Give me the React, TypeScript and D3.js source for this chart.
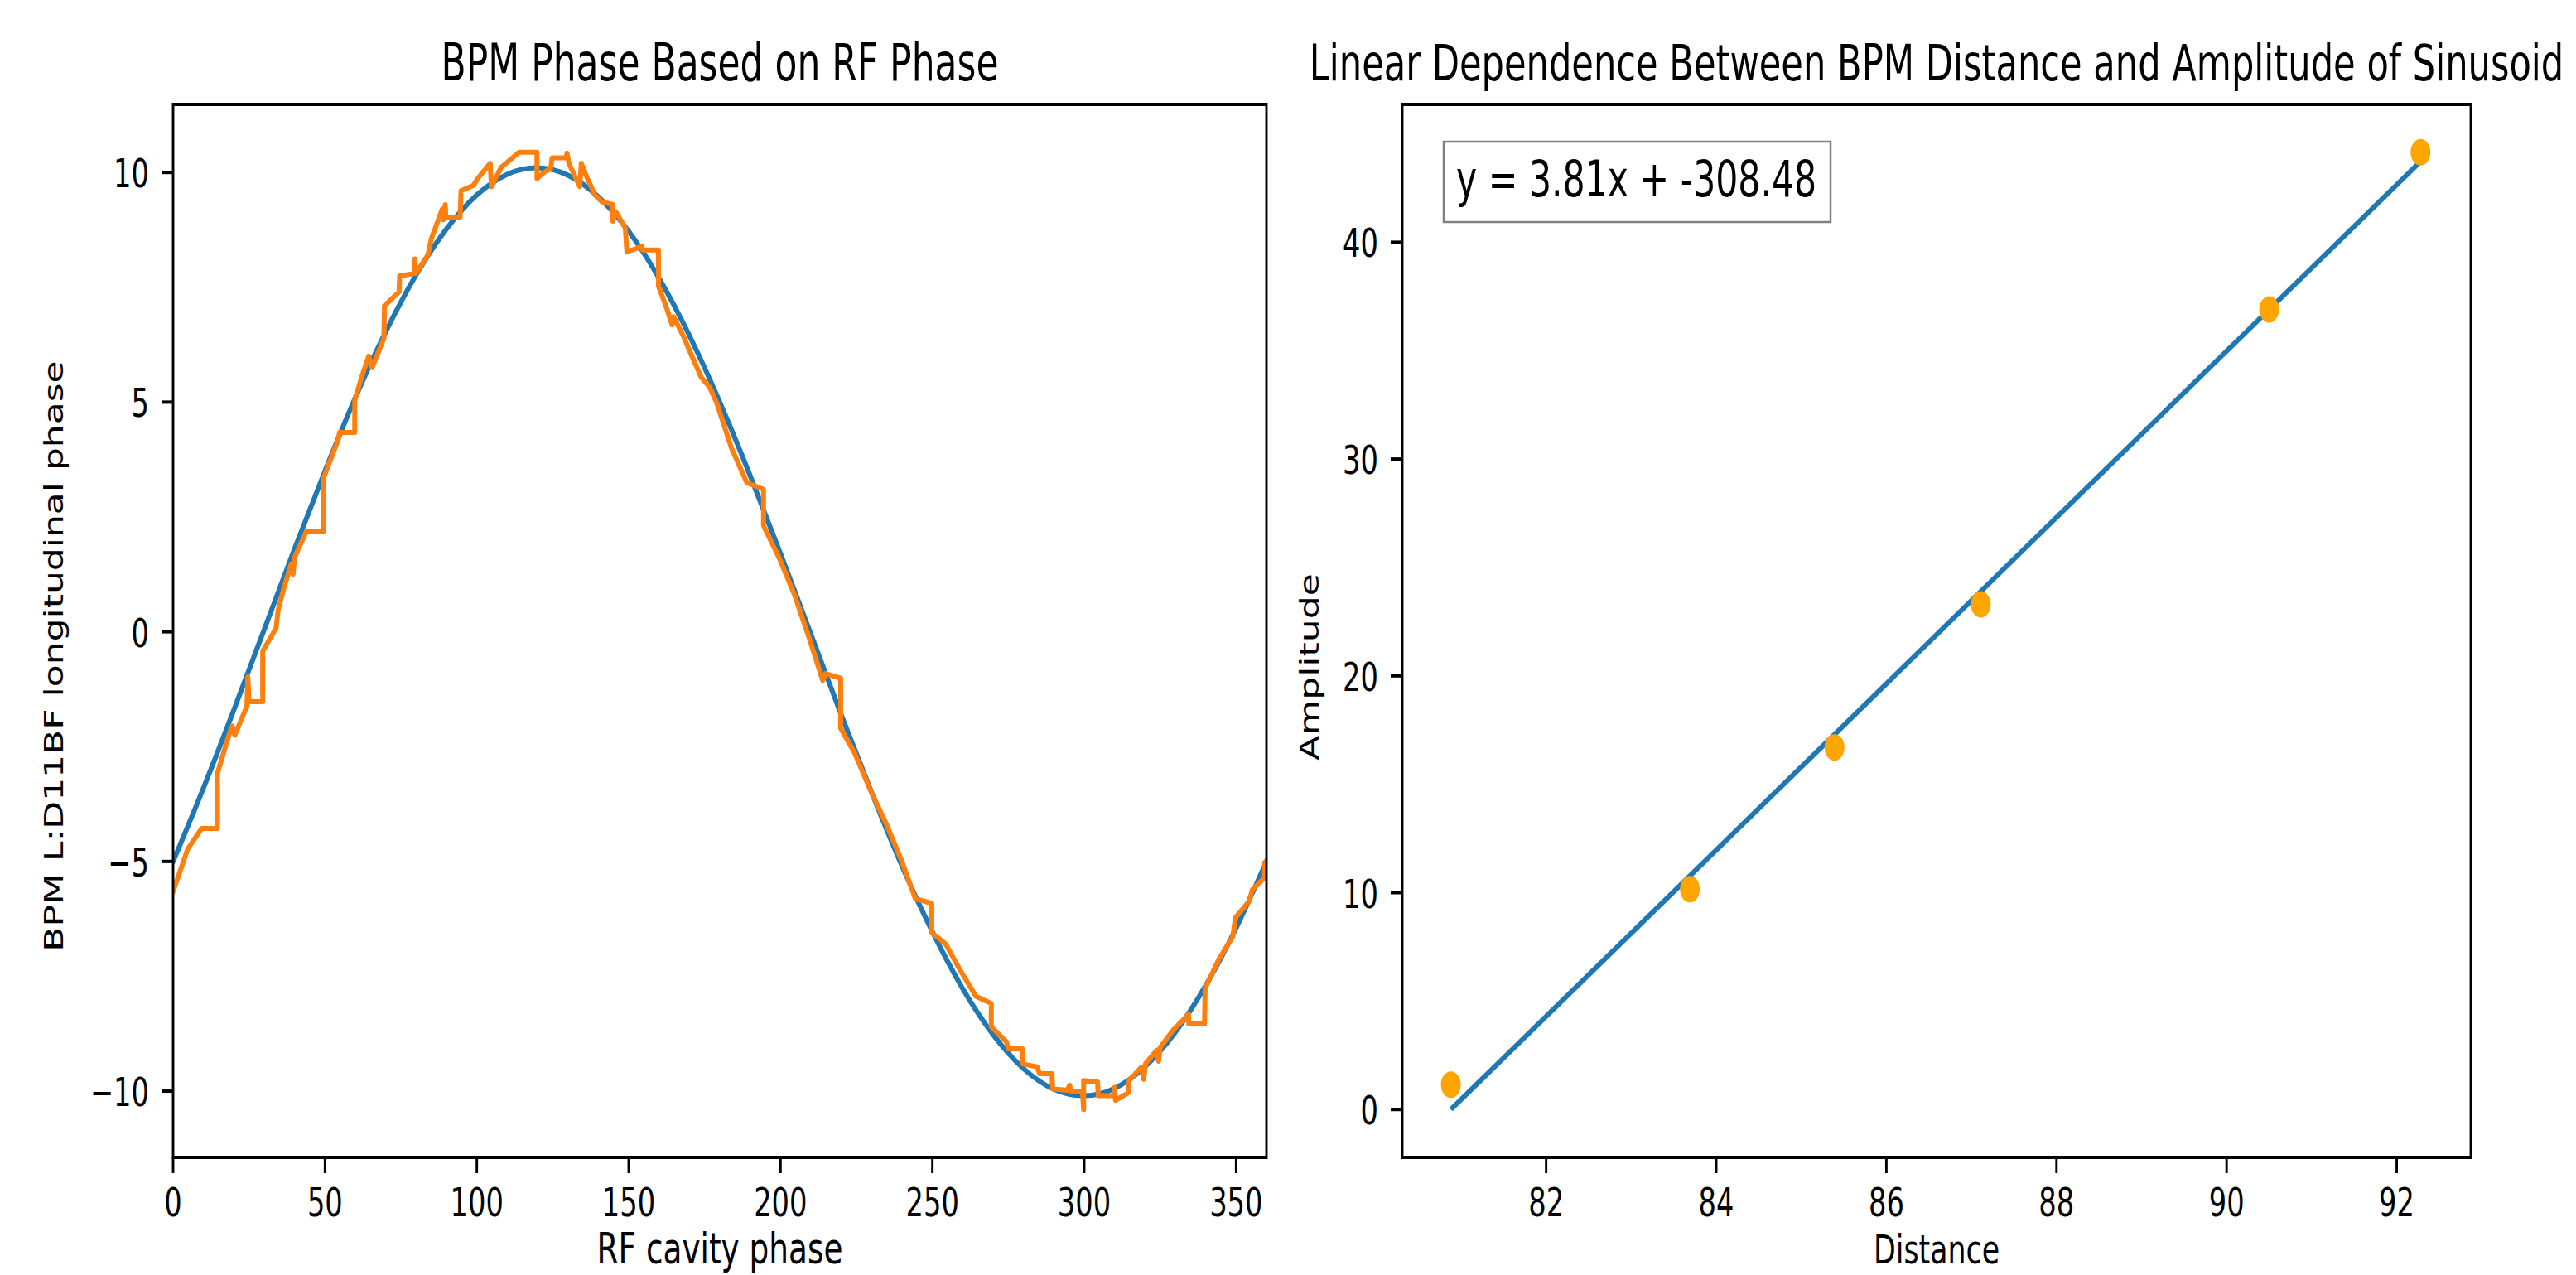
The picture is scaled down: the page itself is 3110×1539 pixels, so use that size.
import React from 'react';
import * as d3 from 'd3';

// ---------- data ----------
const phaseX = [0, 4.8, 9.4, 14.6, 14.6, 18.5, 19.5, 20.3, 24.3, 24.6, 25.0, 29.5, 29.5, 33.9, 34.6, 36.6, 38.9, 39.5, 40.0, 43.9, 49.5, 49.5, 54.4, 54.8, 59.8, 59.8, 62.3, 64.4, 65.5, 69.4, 69.6, 74.4, 74.6, 79.4, 79.6, 79.9, 83.9, 85.0, 88.6, 89.0, 89.6, 89.8, 94.5, 94.8, 98.9, 100.3, 104.4, 104.8, 108.0, 110.7, 113.9, 119.8, 119.8, 122.5, 124.3, 124.8, 129.4, 129.7, 130.3, 133.9, 134.4, 136.2, 138.9, 141.2, 144.8, 144.8, 145.7, 148.9, 149.4, 152.5, 154.3, 154.6, 159.8, 159.8, 162.5, 164.3, 164.8, 168.0, 170.3, 173.9, 176.6, 178.9, 183.9, 188.9, 194.4, 194.4, 199.8, 204.8, 209.8, 213.9, 214.8, 219.8, 219.8, 224.4, 229.8, 234.8, 239.8, 244.4, 249.8, 249.8, 254.4, 258.9, 264.4, 269.4, 269.4, 274.4, 275.0, 279.6, 279.8, 284.4, 285.3, 289.4, 289.6, 294.4, 295.2, 295.6, 299.4, 299.8, 299.8, 304.4, 304.6, 309.8, 310.0, 310.3, 314.4, 314.8, 318.9, 319.6, 320.2, 323.9, 324.5, 325.0, 329.4, 334.4, 334.4, 339.6, 339.8, 344.4, 348.9, 349.8, 354.4, 355.3, 359.4, 359.4, 360];
const phaseY = [-5.65, -4.73, -4.28, -4.28, -3.08, -2.22, -2.05, -2.25, -1.62, -0.98, -1.52, -1.52, -0.42, 0.08, 0.48, 0.98, 1.48, 1.25, 1.62, 2.19, 2.19, 3.34, 4.19, 4.34, 4.34, 5.04, 5.59, 6.0, 5.75, 6.39, 7.1, 7.4, 7.75, 7.8, 8.12, 7.8, 8.2, 8.55, 9.2, 8.97, 9.3, 9.03, 9.03, 9.6, 9.72, 9.87, 10.2, 9.69, 10.11, 10.26, 10.44, 10.44, 9.87, 10.02, 10.08, 10.32, 10.32, 10.42, 10.2, 9.69, 10.2, 9.9, 9.51, 9.36, 9.3, 8.94, 9.15, 8.79, 8.28, 8.34, 8.4, 8.31, 8.31, 7.53, 7.05, 6.68, 6.86, 6.44, 6.08, 5.54, 5.33, 5.0, 3.99, 3.25, 3.1, 2.31, 1.57, 0.77, -0.21, -1.06, -0.91, -1.01, -2.1, -2.64, -3.48, -4.18, -4.97, -5.81, -5.91, -6.55, -6.8, -7.34, -7.94, -8.09, -8.6, -8.93, -9.08, -9.08, -9.41, -9.47, -9.62, -9.62, -9.95, -9.98, -9.87, -10.0, -10.01, -10.4, -9.77, -9.8, -10.1, -10.1, -9.92, -10.2, -10.04, -9.77, -9.47, -9.74, -9.4, -9.11, -9.35, -9.05, -8.66, -8.33, -8.54, -8.54, -7.76, -7.12, -6.64, -6.22, -5.86, -5.62, -5.35, -5.02, -5.0];

const fitPhaseX = [0, 10, 20, 30, 40, 50, 60, 70, 80, 90, 100, 110, 120, 130, 140, 150, 160, 170, 180, 190, 200, 210, 220, 230, 240, 250, 260, 270, 280, 290, 300, 310, 320, 330, 340, 350, 360];
const fitPhaseY = [-5.0, -3.4, -1.7, 0.05, 1.81, 3.5, 5.1, 6.53, 7.77, 8.77, 9.51, 9.96, 10.1, 9.94, 9.47, 8.72, 7.7, 6.45, 5.0, 3.4, 1.7, -0.05, -1.81, -3.5, -5.1, -6.53, -7.77, -8.77, -9.51, -9.96, -10.1, -9.94, -9.47, -8.72, -7.7, -6.45, -5.0];

const distanceX = [80.88, 83.69, 85.39, 87.11, 90.5, 92.28];
const amplitudeY = [1.15, 10.16, 16.7, 23.3, 36.9, 44.15];
const fitLineX = [80.88, 92.3];
const fitLineY = [0.0, 43.8];

const leftXTicks = [0, 50, 100, 150, 200, 250, 300, 350];
const leftYTicks = [-10, -5, 0, 5, 10];
const rightXTicks = [82, 84, 86, 88, 90, 92];
const rightYTicks = [0, 10, 20, 30, 40];

const leftTitle = 'BPM Phase Based on RF Phase';
const rightTitle = 'Linear Dependence Between BPM Distance and Amplitude of Sinusoid';
const leftXLabel = 'RF cavity phase';
const leftYLabel = 'BPM L:D11BF longitudinal phase';
const rightXLabel = 'Distance';
const rightYLabel = 'Amplitude';
const equation = 'y = 3.81x + -308.48';

// ---------- layout ----------
const W = 3110, H = 1539;
const K = 1.41; // vertical stretch of the original figure
const FONT = 'DejaVu Sans';
const top = 126, bottom = 1397;
const L = { x0: 209, x1: 1529 };
const R = { x0: 1693, x1: 2983 };

const fmt = (v: number) => (v < 0 ? '\u2212' + Math.abs(v) : String(v));

function padDomain(vals: number[]): [number, number] {
  const [a, b] = d3.extent(vals) as [number, number];
  const p = (b - a) * 0.05;
  return [a - p, b + p];
}

function T({ x, y, size, anchor = 'middle', rotate = 0, k = K, children }: any) {
  return (
    <text
      transform={`translate(${x},${y}) scale(1,${k}) rotate(${rotate})`}
      fontSize={size}
      fontFamily={FONT}
      textAnchor={anchor}
      fill="#000"
    >
      {children}
    </text>
  );
}

function Frame({ x0, x1 }: { x0: number; x1: number }) {
  return (
    <g stroke="#000">
      <line x1={x0} x2={x1} y1={top} y2={top} strokeWidth={4} />
      <line x1={x0} x2={x1} y1={bottom} y2={bottom} strokeWidth={4} />
      <line x1={x0} x2={x0} y1={top - 2} y2={bottom + 2} strokeWidth={2.9} />
      <line x1={x1} x2={x1} y1={top - 2} y2={bottom + 2} strokeWidth={2.9} />
    </g>
  );
}

export default function App() {
  const lx = d3.scaleLinear().domain([0, 360]).range([L.x0, L.x1]);
  const ly = d3.scaleLinear().domain(padDomain(phaseY.concat(fitPhaseY))).range([bottom, top]);
  const rx = d3.scaleLinear().domain(padDomain(distanceX.concat(fitLineX))).range([R.x0, R.x1]);
  const ry = d3.scaleLinear().domain(padDomain(amplitudeY.concat(fitLineY))).range([bottom, top]);

  const blueLine = d3
    .line<number>()
    .x((_, i) => lx(fitPhaseX[i]))
    .y((d) => ly(d))
    .curve(d3.curveNatural)(fitPhaseY) as string;
  const orangeLine = d3
    .line<number>()
    .x((_, i) => lx(phaseX[i]))
    .y((d) => ly(d))(phaseY) as string;
  const fitLine = d3
    .line<number>()
    .x((_, i) => rx(fitLineX[i]))
    .y((d) => ry(d))(fitLineY) as string;

  const tickSize = 33.7;

  return (
    <svg width={W} height={H} style={{ position: 'absolute', left: 0, top: 0, display: 'block', background: '#fff' }}>
      <defs>
        <clipPath id="clipL">
          <rect x={L.x0} y={top} width={L.x1 - L.x0} height={bottom - top} />
        </clipPath>
        <clipPath id="clipR">
          <rect x={R.x0} y={top} width={R.x1 - R.x0} height={bottom - top} />
        </clipPath>
      </defs>
      <rect x={0} y={0} width={W} height={H} fill="#fff" />

      {/* ---------- left axes ---------- */}
      <g clipPath="url(#clipL)" fill="none" strokeLinejoin="round" strokeLinecap="square">
        <path d={blueLine} stroke="#1f77b4" strokeWidth={6} />
        <path d={orangeLine} stroke="#ff7f0e" strokeWidth={6} />
      </g>
      <Frame x0={L.x0} x1={L.x1} />
      {leftXTicks.map((t) => (
        <g key={'lx' + t}>
          <line x1={lx(t)} x2={lx(t)} y1={bottom} y2={bottom + 19} stroke="#000" strokeWidth={2.9} />
          <T x={lx(t)} y={1468} size={tickSize}>{fmt(t)}</T>
        </g>
      ))}
      {leftYTicks.map((t) => (
        <g key={'ly' + t}>
          <line x1={L.x0 - 14} x2={L.x0} y1={ly(t)} y2={ly(t)} stroke="#000" strokeWidth={4} />
          <T x={L.x0 - 29} y={ly(t) + 18} size={tickSize} anchor="end">{fmt(t)}</T>
        </g>
      ))}
      <T x={(L.x0 + L.x1) / 2} y={97} size={44}>{leftTitle}</T>
      <T x={(L.x0 + L.x1) / 2} y={1525} size={37.4} k={1.36}>{leftXLabel}</T>
      <T x={76} y={792} size={31.2} rotate={-90}>{leftYLabel}</T>

      {/* ---------- right axes ---------- */}
      <g clipPath="url(#clipR)">
        <path d={fitLine} stroke="#1f77b4" strokeWidth={6} fill="none" />
        {distanceX.map((d, i) => (
          <ellipse key={'p' + i} cx={rx(d)} cy={ry(amplitudeY[i])} rx={12} ry={16} fill="orange" />
        ))}
      </g>
      <Frame x0={R.x0} x1={R.x1} />
      {rightXTicks.map((t) => (
        <g key={'rx' + t}>
          <line x1={rx(t)} x2={rx(t)} y1={bottom} y2={bottom + 19} stroke="#000" strokeWidth={2.9} />
          <T x={rx(t)} y={1468} size={tickSize}>{fmt(t)}</T>
        </g>
      ))}
      {rightYTicks.map((t) => (
        <g key={'ry' + t}>
          <line x1={R.x0 - 14} x2={R.x0} y1={ry(t)} y2={ry(t)} stroke="#000" strokeWidth={4} />
          <T x={R.x0 - 29} y={ry(t) + 18} size={tickSize} anchor="end">{fmt(t)}</T>
        </g>
      ))}
      <T x={(R.x0 + R.x1) / 2} y={97} size={43.2}>{rightTitle}</T>
      <T x={(R.x0 + R.x1) / 2} y={1525} size={34.8} k={1.36}>{rightXLabel}</T>
      <T x={1592} y={805} size={31.2} rotate={-90}>{rightYLabel}</T>

      <rect x={1743} y={171} width={467} height={97} fill="#fff" stroke="#808080" strokeWidth={2.5} />
      <T x={1758} y={237} size={42.6} anchor="start">{equation}</T>
    </svg>
  );
}
